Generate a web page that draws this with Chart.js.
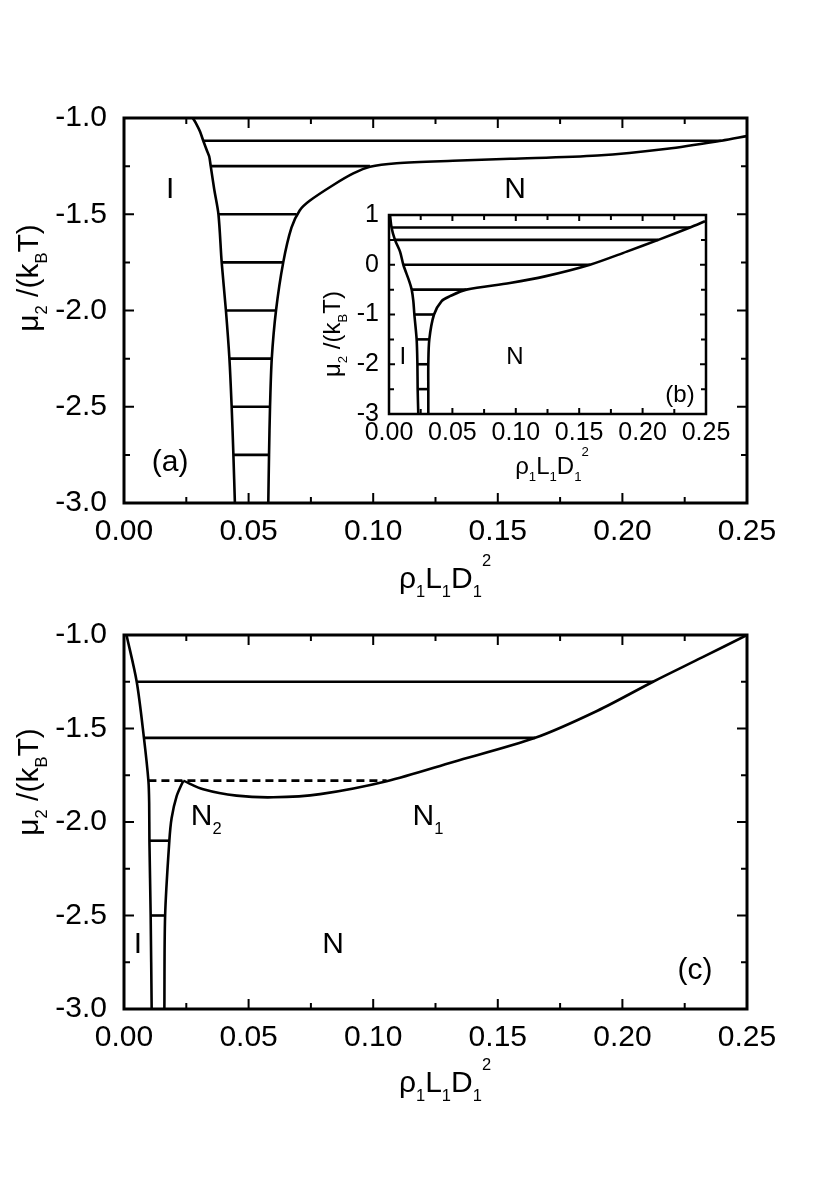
<!DOCTYPE html>
<html>
<head>
<meta charset="utf-8">
<script src="https://cdn.jsdelivr.net/npm/chart.js@4.4.0/dist/chart.umd.min.js"></script>
<style>
  body { margin: 0; background: #fff; }
  #wrap { position: relative; width: 830px; height: 1189px; overflow: hidden; }
  canvas { position: absolute; }
</style>
</head>
<body>
<div id="wrap">
  <canvas id="chartA" width="830" height="610" style="left:0;top:0"></canvas>
  <canvas id="chartC" width="830" height="589" style="left:0;top:600px"></canvas>
  <canvas id="chartB" width="440" height="310" style="left:300px;top:190px"></canvas>
</div>
<script>
// ---- panel (a) ----
const aIsoX = [0.0276, 0.0290, 0.0305, 0.0318, 0.0333, 0.0342, 0.0348, 0.0362, 0.0379, 0.0392, 0.0409, 0.0423, 0.0432, 0.0439, 0.0445];
const aIsoY = [-1.0, -1.03, -1.07, -1.118, -1.17, -1.2, -1.25, -1.37, -1.5, -1.75, -2.0, -2.25, -2.5, -2.75, -3.0];
const aNemX = [0.0579, 0.0582, 0.0586, 0.0593, 0.061, 0.0639, 0.0672, 0.0705, 0.0745, 0.084, 0.092, 0.0987, 0.1094, 0.132, 0.155, 0.19, 0.218, 0.2398, 0.25];
const aNemY = [-3.0, -2.75, -2.5, -2.25, -2.0, -1.75, -1.57, -1.48, -1.43, -1.348, -1.288, -1.253, -1.235, -1.222, -1.212, -1.195, -1.16, -1.118, -1.094];
const aTieMu = [-1.118, -1.25, -1.5, -1.75, -2.0, -2.25, -2.5, -2.75];
const aTieLeft = [0.0318, 0.0348, 0.0379, 0.0392, 0.0409, 0.0423, 0.0432, 0.0439];
const aTieRight = [0.2398, 0.0987, 0.0693, 0.0639, 0.061, 0.0593, 0.0586, 0.0582];
const aLabels = ['I', 'N', '(a)'];
const aLabelX = [0.0185, 0.1569, 0.0185];
const aLabelY = [-1.358, -1.358, -2.777];

// ---- inset (b) ----
const bIsoX = [0.0008, 0.002, 0.0047, 0.0087, 0.0113, 0.016, 0.0179, 0.0192, 0.02, 0.0218, 0.0224, 0.0226, 0.0231];
const bIsoY = [1.0, 0.75, 0.5, 0.264, 0.0, -0.333, -0.5, -0.73, -1.0, -1.5, -2.0, -2.5, -3.0];
const bNemX = [0.031, 0.031, 0.031, 0.0318, 0.0355, 0.0415, 0.0481, 0.061, 0.0954, 0.123, 0.1585, 0.1875, 0.2124, 0.2374, 0.2492];
const bNemY = [-3.0, -2.5, -2.0, -1.5, -1.0, -0.73, -0.632, -0.5, -0.367, -0.234, 0.0, 0.264, 0.5, 0.75, 0.874];
const bTieMu = [0.75, 0.5, 0.0, -0.5, -1.0, -1.5, -2.0, -2.5];
const bTieLeft = [0.002, 0.0047, 0.0113, 0.0179, 0.02, 0.0218, 0.0224, 0.0226];
const bTieRight = [0.2374, 0.2124, 0.1585, 0.061, 0.0355, 0.0318, 0.031, 0.031];
const bLabels = ['I', 'N', '(b)'];
const bLabelX = [0.011, 0.0994, 0.2295];
const bLabelY = [-1.826, -1.826, -2.58];

// ---- panel (c) ----
const cIsoX = [0.001, 0.0051, 0.008, 0.0098, 0.0101, 0.0102, 0.0107, 0.0111];
const cIsoY = [-1.0, -1.25, -1.55, -1.78, -1.9, -2.1, -2.5, -3.0];
const cN2X = [0.0162, 0.0165, 0.0182, 0.0191, 0.0211, 0.0238];
const cN2Y = [-3.0, -2.5, -2.1, -1.98, -1.863, -1.779];
const cN1X = [0.0238, 0.0318, 0.0452, 0.0599, 0.0787, 0.1054, 0.1321, 0.165, 0.19, 0.2123, 0.232, 0.25];
const cN1Y = [-1.779, -1.825, -1.859, -1.868, -1.851, -1.782, -1.679, -1.55, -1.405, -1.25, -1.12, -1.0];
const cTieMu = [-1.25, -1.55, -2.1, -2.5];
const cTieLeft = [0.0051, 0.008, 0.0102, 0.0107];
const cTieRight = [0.2123, 0.165, 0.0182, 0.0165];
const cDashMu = [-1.779];
const cDashLeft = [0.0098];
const cDashRight = [0.1054];
const cLabels = ['N_2', 'N_1', 'N', 'I', '(c)'];
const cLabelX = [0.033, 0.122, 0.0839, 0.0056, 0.2291];
const cLabelY = [-1.961, -1.961, -2.643, -2.643, -2.783];

const FONT = '"Liberation Sans", Arial, Helvetica, sans-serif';

function parseRich(s) {
  const parts = [];
  let i = 0;
  while (i < s.length) {
    if (s[i] === '_') { parts.push({ t: s[i + 1], s: 'sub' }); i += 2; }
    else if (s[i] === '^') { parts.push({ t: s[i + 1], s: 'sup' }); i += 2; }
    else {
      let j = i;
      while (j < s.length && s[j] !== '_' && s[j] !== '^') j++;
      parts.push({ t: s.slice(i, j) });
      i = j;
    }
  }
  return parts;
}

// draws text centred on x, with baseline at y (in the rotated frame)
function richText(ctx, str, x, y, size, angle) {
  const parts = parseRich(str);
  ctx.save();
  ctx.translate(x, y);
  ctx.rotate(angle || 0);
  ctx.fillStyle = '#000';
  ctx.textAlign = 'left';
  ctx.textBaseline = 'alphabetic';
  let w = 0;
  parts.forEach(p => {
    ctx.font = (p.s ? size * 0.55 : size) + 'px ' + FONT;
    w += ctx.measureText(p.t).width;
  });
  let cx = -w / 2;
  parts.forEach(p => {
    ctx.font = (p.s ? size * 0.55 : size) + 'px ' + FONT;
    let dy = 0;
    if (p.s === 'sub') dy = size * 0.3;
    if (p.s === 'sup') dy = -size * 0.75;
    ctx.fillText(p.t, cx, dy);
    cx += ctx.measureText(p.t).width;
  });
  ctx.restore();
}

function isMult(v, step) {
  return Math.abs(v / step - Math.round(v / step)) < 1e-6;
}

function line(xs, ys, dash, tension) {
  return {
    data: xs.map((v, i) => ({ x: v, y: ys[i] })),
    borderColor: '#000',
    borderWidth: 2.6,
    borderDash: dash || [],
    pointRadius: 0,
    showLine: true,
    fill: false,
    tension: tension || 0
  };
}

function ties(mu, left, right, dash) {
  return mu.map((m, i) => line([left[i], right[i]], [m, m], dash));
}

function panelPlugin(o) {
  return {
    id: 'panel',
    beforeDatasetsDraw(chart) {
      if (!o.fillArea) return;
      const a = chart.chartArea, ctx = chart.ctx;
      ctx.save();
      ctx.fillStyle = '#fff';
      ctx.fillRect(a.left, a.top, a.right - a.left, a.bottom - a.top);
      ctx.restore();
    },
    afterDraw(chart) {
      const ctx = chart.ctx, a = chart.chartArea;
      const xs = chart.scales.x, ys = chart.scales.y;
      ctx.save();
      ctx.strokeStyle = '#000';
      ctx.lineWidth = o.tickWidth;
      ctx.beginPath();
      xs.ticks.forEach(t => {
        if (t.value <= xs.min + 1e-9 || t.value >= xs.max - 1e-9) return;
        const px = xs.getPixelForValue(t.value);
        const len = isMult(t.value, o.xMajor) ? o.majorLen : o.minorLen;
        ctx.moveTo(px, a.bottom); ctx.lineTo(px, a.bottom - len);
        ctx.moveTo(px, a.top); ctx.lineTo(px, a.top + len);
      });
      ys.ticks.forEach(t => {
        if (t.value <= ys.min + 1e-9 || t.value >= ys.max - 1e-9) return;
        const py = ys.getPixelForValue(t.value);
        const len = isMult(t.value, o.yMajor) ? o.majorLen : o.minorLen;
        ctx.moveTo(a.left, py); ctx.lineTo(a.left + len, py);
        ctx.moveTo(a.right, py); ctx.lineTo(a.right - len, py);
      });
      ctx.stroke();
      ctx.lineWidth = o.frameWidth;
      ctx.strokeRect(a.left, a.top, a.right - a.left, a.bottom - a.top);
      ctx.restore();

      o.labels.forEach((txt, i) => {
        const px = xs.getPixelForValue(o.labelX[i]);
        const py = ys.getPixelForValue(o.labelY[i]);
        richText(ctx, txt, px, py + o.labelSize * 0.358, o.labelSize, 0);
      });
      richText(ctx, 'ρ_1L_1D_1^2', o.xTitle[0], o.xTitle[1], o.titleSize, 0);
      richText(ctx, 'μ_2 /(k_BT)', o.yTitle[0], o.yTitle[1], o.titleSize, -Math.PI / 2);
    }
  };
}

function makeChart(id, datasets, s) {
  return new Chart(document.getElementById(id), {
    type: 'scatter',
    data: { datasets: datasets },
    options: {
      responsive: false,
      animation: false,
      layout: { padding: s.padding },
      plugins: { legend: { display: false }, tooltip: { enabled: false } },
      scales: {
        x: {
          type: 'linear', min: s.xMin, max: s.xMax,
          grid: { display: false, drawTicks: false },
          border: { display: false },
          afterFit: sc => { sc.height = s.xAxisH; },
          ticks: {
            stepSize: s.xStep, autoSkip: false, maxRotation: 0, padding: s.xPad,
            color: '#000', font: { family: FONT, size: s.tickSize },
            callback: v => isMult(v, s.xMajor) ? Number(v).toFixed(2) : ''
          }
        },
        y: {
          type: 'linear', min: s.yMin, max: s.yMax,
          grid: { display: false, drawTicks: false },
          border: { display: false },
          afterFit: sc => { sc.width = s.yAxisW; },
          ticks: {
            stepSize: s.yStep, autoSkip: false, padding: s.yPad,
            color: '#000', font: { family: FONT, size: s.tickSize },
            callback: v => isMult(v, s.yMajor) ? Number(v).toFixed(s.yDigits) : ''
          }
        }
      }
    },
    plugins: [panelPlugin(s)]
  });
}

// panel (a)
makeChart('chartA', [
  line(aIsoX, aIsoY, null, 0.3),
  line(aNemX, aNemY, null, 0.3),
  ...ties(aTieMu, aTieLeft, aTieRight)
], {
  padding: { top: 118, right: 83, bottom: 47, left: 0 },
  xMin: 0, xMax: 0.25, xStep: 0.025, xMajor: 0.05, xAxisH: 60, xPad: 11,
  yMin: -3, yMax: -1, yStep: 0.25, yMajor: 0.5, yDigits: 1, yAxisW: 124, yPad: 17,
  tickSize: 30, labelSize: 30, titleSize: 30,
  majorLen: 10, minorLen: 6, tickWidth: 2, frameWidth: 3,
  labels: aLabels, labelX: aLabelX, labelY: aLabelY,
  xTitle: [445, 588], yTitle: [38, 278], fillArea: false
});

// panel (c)
makeChart('chartC', [
  line(cIsoX, cIsoY, null, 0.3),
  line(cN2X, cN2Y, null, 0.3),
  line(cN1X, cN1Y, null, 0.3),
  ...ties(cTieMu, cTieLeft, cTieRight),
  ...ties(cDashMu, cDashLeft, cDashRight, [8, 5])
], {
  padding: { top: 22, right: 83, bottom: 120, left: 0 },
  xMin: 0, xMax: 0.25, xStep: 0.025, xMajor: 0.05, xAxisH: 60, xPad: 11,
  yMin: -3, yMax: -1, yStep: 0.25, yMajor: 0.5, yDigits: 1, yAxisW: 124, yPad: 17,
  tickSize: 30, labelSize: 30, titleSize: 30,
  majorLen: 10, minorLen: 6, tickWidth: 2, frameWidth: 3,
  labels: cLabels, labelX: cLabelX, labelY: cLabelY,
  xTitle: [445, 492], yTitle: [38, 182], fillArea: false
});

// inset (b)
makeChart('chartB', [
  line(bIsoX, bIsoY, null, 0.3),
  line(bNemX, bNemY, null, 0.3),
  ...ties(bTieMu, bTieLeft, bTieRight)
], {
  padding: { top: 23, right: 34, bottom: 36, left: 0 },
  xMin: 0, xMax: 0.25, xStep: 0.025, xMajor: 0.05, xAxisH: 50, xPad: 4,
  yMin: -3, yMax: 1, yStep: 0.5, yMajor: 1, yDigits: 0, yAxisW: 89, yPad: 10,
  tickSize: 25, labelSize: 24, titleSize: 24,
  majorLen: 6, minorLen: 5, tickWidth: 2, frameWidth: 2.5,
  labels: bLabels, labelX: bLabelX, labelY: bLabelY,
  xTitle: [252, 284], yTitle: [40, 144], fillArea: true
});
</script>
</body>
</html>
